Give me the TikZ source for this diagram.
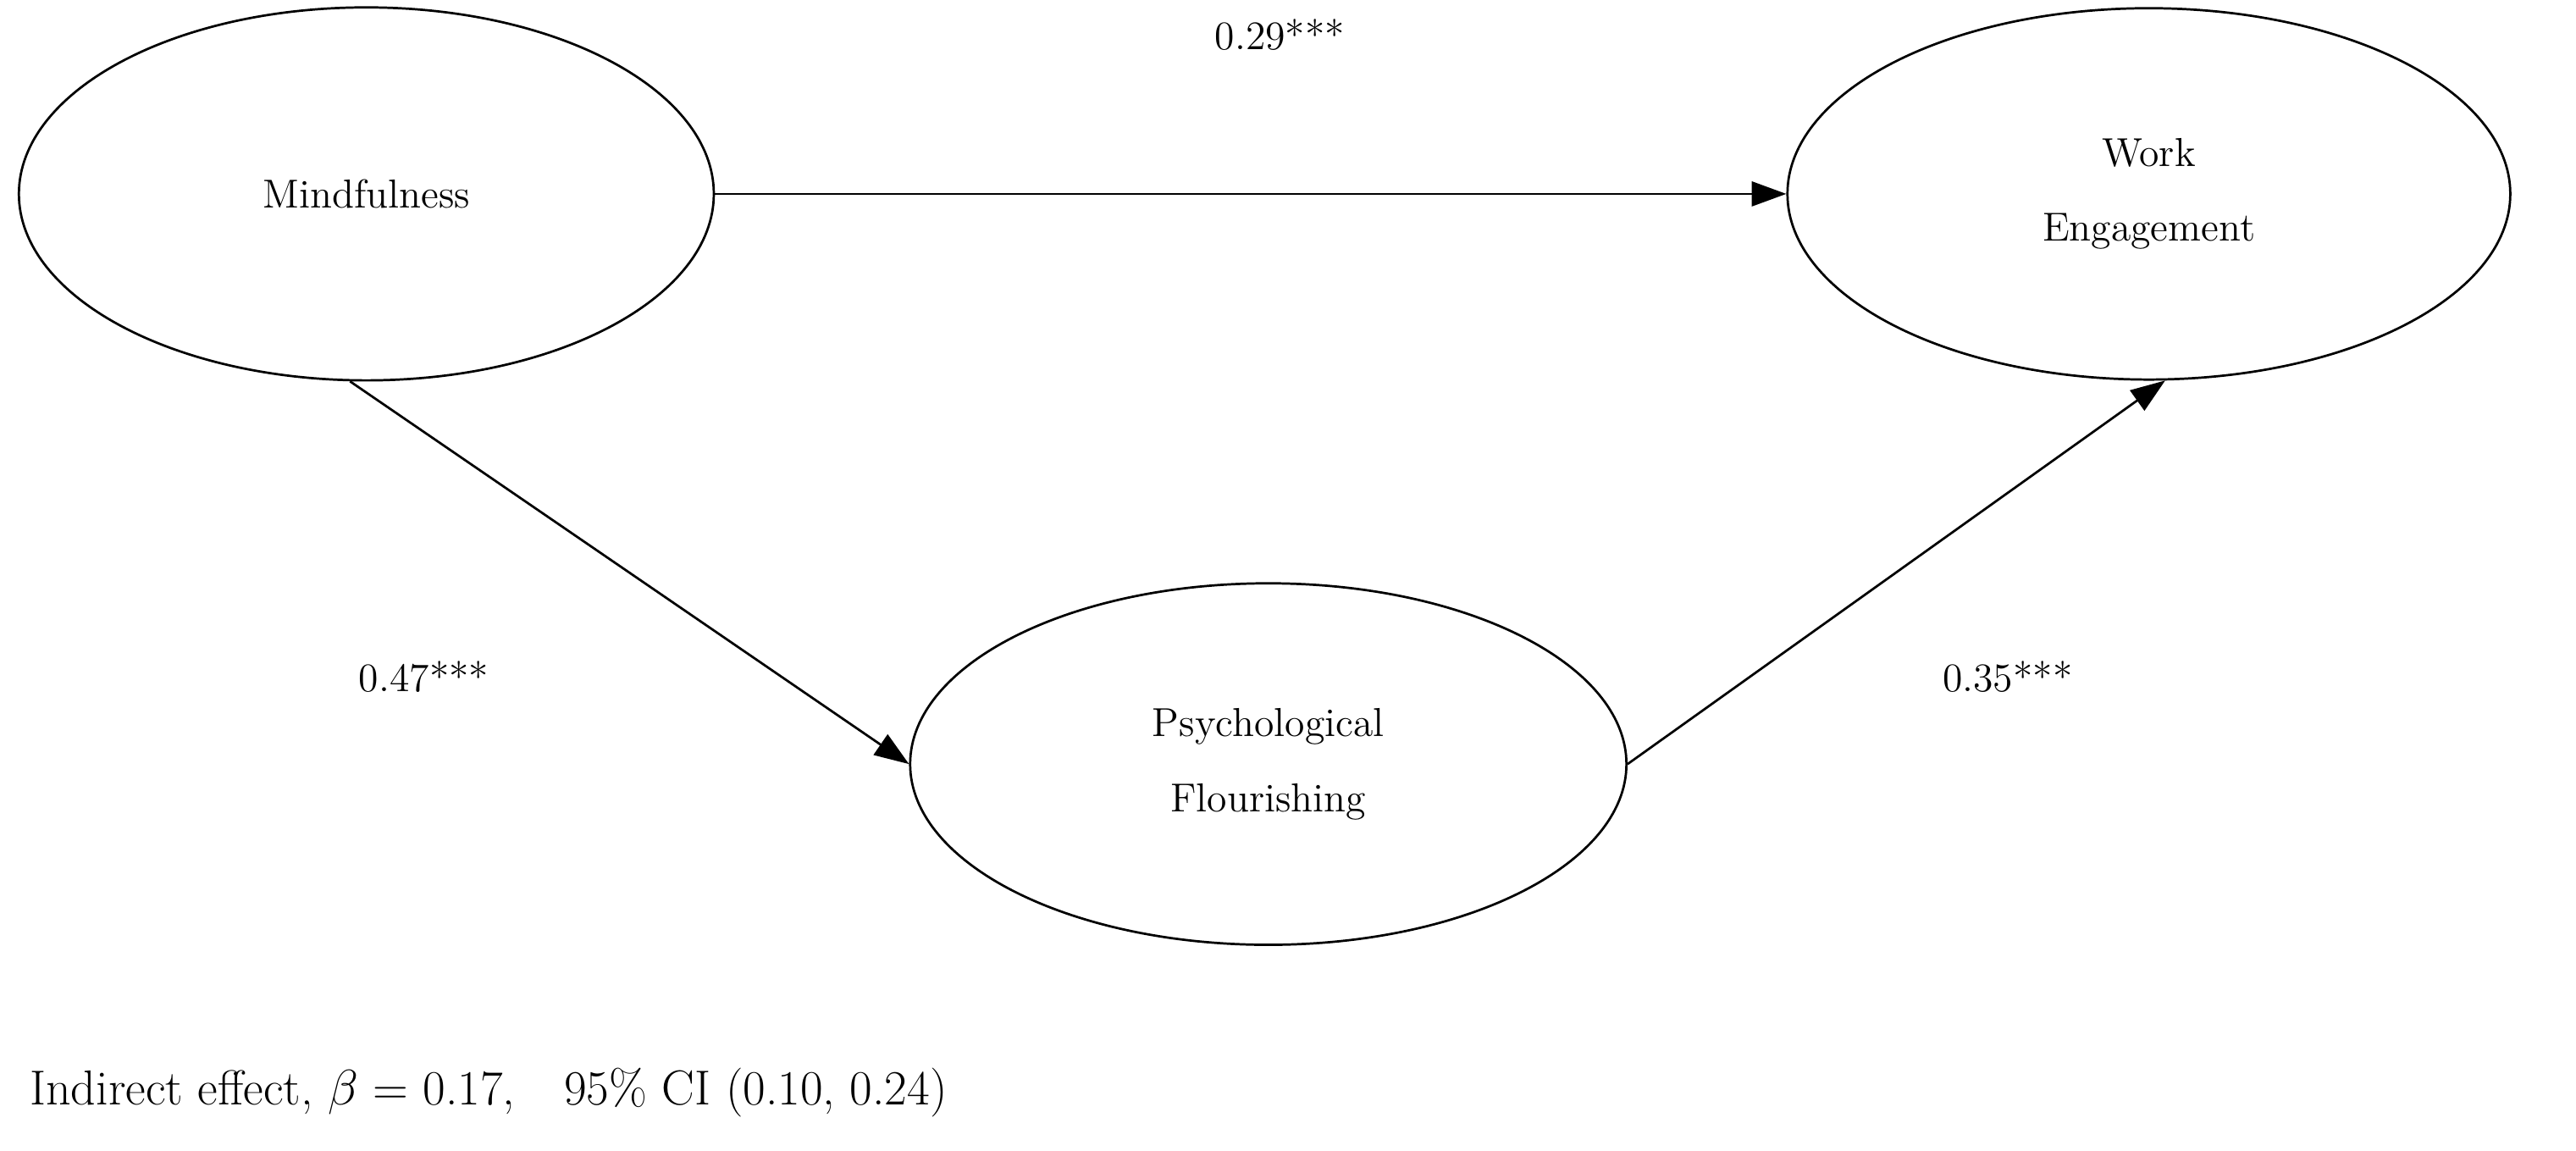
\documentclass[tikz,border=0pt]{standalone}
\usetikzlibrary{positioning,arrows.meta,shapes.geometric}
\tikzset{
    construct/.style = {
        draw,
        shape=ellipse,
        line width=0.8pt,
        inner sep=0pt,
        align=center,
        font=\fontsize{14}{26}\selectfont
    },
    coef/.style = {
        font=\fontsize{14}{17}\selectfont
    },
    path/.style = {
        draw,
        line width=0.8pt,
        -{Triangle[length=0.42cm,width=0.3cm]}
    },
}
\begin{document}
\begin{tikzpicture}[x=0.02cm,y=-0.02cm]
    \useasboundingbox (0,0) rectangle (1568,700);

    \node[construct, minimum width=423*0.02cm, minimum height=227*0.02cm] (mind) at (223,118) {Mindfulness};
    \node[construct, minimum width=440*0.02cm, minimum height=226*0.02cm] (work) at (1308,118) {Work\\Engagement};
    \node[construct, minimum width=436*0.02cm, minimum height=220*0.02cm] (flour) at (772,465) {Psychological\\Flourishing};

    \path[path] (mind.east) -- (work.west);
    \path[path] (mind.265) -- (flour.west);
    \path[path] (flour.east) -- (work.275);

    \node[coef] (c_mw) at (779,21) {0.29***};
    \node[coef] (c_mf) at (258,412) {0.47***};
    \node[coef] (c_fw) at (1222,412) {0.35***};

    \node[anchor=west, font=\fontsize{17}{20}\selectfont] (indirect) at (12,665)
        {Indirect effect, $\beta$ = 0.17,\quad 95\% CI (0.10, 0.24)};
\end{tikzpicture}
\end{document}
